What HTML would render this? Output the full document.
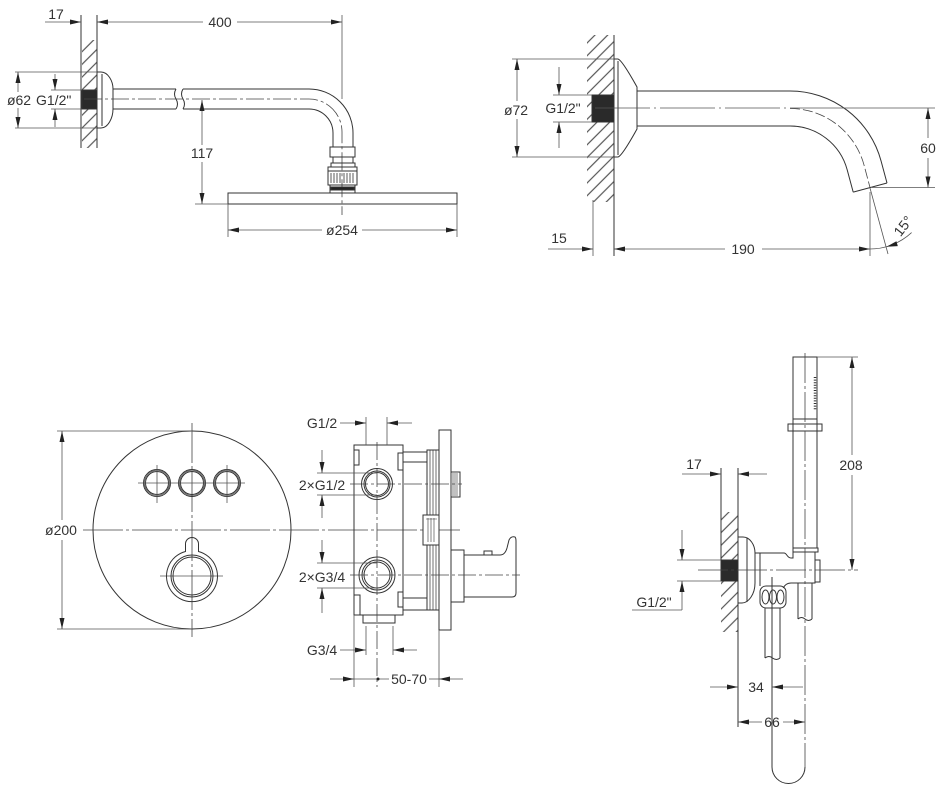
<!DOCTYPE html>
<html><head><meta charset="utf-8">
<style>
body{margin:0;background:#fff}
svg{display:block}
text{font-family:"Liberation Sans",sans-serif;font-size:14px;fill:#333;stroke:none}
.d{stroke:#555;stroke-width:0.8}
.c{stroke:#444;stroke-width:0.8;stroke-dasharray:18 3 3 3}
</style></head>
<body>
<svg width="939" height="796" viewBox="0 0 939 796" xmlns="http://www.w3.org/2000/svg">
<defs>
<marker id="a" viewBox="0 0 11 5" refX="11" refY="2.5" markerWidth="11" markerHeight="5" markerUnits="userSpaceOnUse" orient="auto-start-reverse"><path d="M0,0L11,2.5L0,5z" fill="#222"/></marker>
<pattern id="h" width="9" height="9" patternUnits="userSpaceOnUse" patternTransform="rotate(45)"><line x1="4.5" y1="0" x2="4.5" y2="9" stroke="#555" stroke-width="1.2"/></pattern>
</defs>
<g fill="none" stroke="#333" stroke-width="1">

<!-- ============ TOP LEFT : shower arm ============ -->
<rect x="82" y="40" width="15" height="108" fill="url(#h)" stroke="none"/>
<line x1="81" y1="15" x2="81" y2="148"/>
<line x1="97" y1="15" x2="97" y2="148"/>
<rect x="82" y="90" width="15" height="19" fill="#2a2a2a"/>
<path d="M97,72 H101 C108,72 113,81 113,89 V109 C113,118 108,128 101,128 H97"/>
<line x1="102" y1="74" x2="102" y2="126"/>
<path d="M113,89 H176 M183,89 H309 A44,44 0 0 1 353,133 V147"/>
<path d="M113,109 H176 M183,109 H309 A24,24 0 0 1 333,133 V147"/>
<path d="M176,89 q-3,5 0,10 q3,5 0,10 M183,89 q-3,5 0,10 q3,5 0,10"/>
<path class="c" d="M84,99 H309 A33,33 0 0 1 342,132 V215"/>
<line class="d" x1="342" y1="15" x2="342" y2="99"/>
<!-- nut -->
<rect x="330" y="147" width="25" height="10"/>
<rect x="333" y="157" width="20" height="6"/>
<rect x="331" y="163" width="24" height="4"/>
<rect x="328" y="167" width="29" height="18"/>
<line x1="328" y1="171" x2="357" y2="171"/>
<path d="M331,173V183M334,173V183M337,173V183M340,173V183M344,173V183M347,173V183M350,173V183M353,173V183" stroke-width="0.8"/>
<rect x="330" y="185" width="25" height="8"/>
<rect x="331" y="187" width="23" height="3" fill="#222"/>
<!-- head -->
<rect x="228" y="193" width="229" height="11"/>
<!-- dims -->
<g class="d">
<line x1="45" y1="22" x2="81" y2="22" marker-end="url(#a)"/>
<line x1="203" y1="22" x2="97" y2="22" marker-end="url(#a)"/>
<line x1="237" y1="22" x2="342" y2="22" marker-end="url(#a)"/>
<line x1="15" y1="72" x2="97" y2="72"/>
<line x1="15" y1="128" x2="97" y2="128"/>
<line x1="18" y1="92" x2="18" y2="72" marker-end="url(#a)"/>
<line x1="18" y1="108" x2="18" y2="128" marker-end="url(#a)"/>
<line x1="51" y1="90" x2="82" y2="90"/>
<line x1="51" y1="109" x2="82" y2="109"/>
<line x1="55" y1="74" x2="55" y2="90" marker-end="url(#a)"/>
<line x1="55" y1="127" x2="55" y2="109" marker-end="url(#a)"/>
<line x1="202" y1="145" x2="202" y2="100" marker-end="url(#a)"/>
<line x1="202" y1="162" x2="202" y2="204" marker-end="url(#a)"/>
<line x1="195" y1="204" x2="228" y2="204"/>
<line x1="228" y1="204" x2="228" y2="237"/>
<line x1="457" y1="204" x2="457" y2="237"/>
<line x1="322" y1="230" x2="228" y2="230" marker-end="url(#a)"/>
<line x1="362" y1="230" x2="457" y2="230" marker-end="url(#a)"/>
</g>
<text x="56" y="19" text-anchor="middle">17</text>
<text x="220" y="27" text-anchor="middle">400</text>
<text x="19" y="105" text-anchor="middle">ø62</text>
<text x="36" y="105">G1/2"</text>
<text x="202" y="158" text-anchor="middle">117</text>
<text x="342" y="235" text-anchor="middle">ø254</text>

<!-- ============ TOP RIGHT : spout ============ -->
<rect x="587" y="35" width="27" height="167" fill="url(#h)" stroke="none"/>
<line x1="614" y1="35" x2="614" y2="256"/>
<rect x="592" y="95" width="22" height="27" fill="#2a2a2a"/>
<path d="M614,59 H618 Q622,60 637,87 V129 Q622,156 618,157 H614"/>
<line x1="618" y1="61" x2="618" y2="155"/>
<path d="M637,91 H790 A94.2,94.2 0 0 1 881,160.8 L887,183"/>
<path d="M637,126 H790 A59.2,59.2 0 0 1 847.2,169.9 L853.2,192.1"/>
<line x1="853.2" y1="192.1" x2="887" y2="183"/>
<path class="c" d="M790,108.5 A76.7,76.7 0 0 1 864.1,165.3 L870,187.5" style="stroke-dasharray:10 3"/>
<line class="d" x1="595" y1="108" x2="800" y2="108" style="stroke-dasharray:55 4 2 4"/>
<g class="d">
<line x1="800" y1="108" x2="935" y2="108"/>
<line x1="928" y1="138" x2="928" y2="108" marker-end="url(#a)"/>
<line x1="928" y1="158" x2="928" y2="187.5" marker-end="url(#a)"/>
<line x1="872" y1="187.5" x2="935" y2="187.5"/>
<line x1="870" y1="192" x2="870" y2="256"/>
<line x1="870" y1="188" x2="888" y2="254"/>
<path d="M870,249 A61,61 0 0 0 911.6,232.6"/>
<line x1="593" y1="200" x2="593" y2="256"/>
<line x1="725" y1="249" x2="614" y2="249" marker-end="url(#a)"/>
<line x1="762" y1="249" x2="870" y2="249" marker-end="url(#a)"/>
<line x1="548" y1="249" x2="593" y2="249" marker-end="url(#a)"/>
<line x1="512" y1="59" x2="614" y2="59"/>
<line x1="512" y1="157" x2="614" y2="157"/>
<line x1="517" y1="101" x2="517" y2="59" marker-end="url(#a)"/>
<line x1="517" y1="119" x2="517" y2="157" marker-end="url(#a)"/>
<line x1="553" y1="95" x2="592" y2="95"/>
<line x1="553" y1="122" x2="592" y2="122"/>
<line x1="559" y1="67" x2="559" y2="95" marker-end="url(#a)"/>
<line x1="559" y1="148" x2="559" y2="122" marker-end="url(#a)"/>
</g>
<polygon points="886.5,246.7 897.8,246.1 896.4,241.3" fill="#222" stroke="none"/>
<text x="928" y="153" text-anchor="middle">60</text>
<text transform="translate(907,229) rotate(-52)" text-anchor="middle">15°</text>
<text x="743" y="254" text-anchor="middle">190</text>
<text x="559" y="243" text-anchor="middle">15</text>
<text x="516" y="115" text-anchor="middle">ø72</text>
<text x="563" y="113" text-anchor="middle">G1/2"</text>

<!-- ============ BOTTOM LEFT : plate ============ -->
<circle cx="192" cy="530" r="99"/>
<line class="c" x1="192" y1="423" x2="192" y2="637" style="stroke-dasharray:40 3 3 3"/>
<line class="c" x1="83" y1="530" x2="460" y2="530" style="stroke-dasharray:40 3 3 3"/>
<g>
<circle cx="157" cy="483" r="13.5"/><circle cx="157" cy="483" r="11.5"/><circle cx="157" cy="483" r="12.5" stroke-width="0.6"/>
<circle cx="192" cy="483" r="13.5"/><circle cx="192" cy="483" r="11.5"/><circle cx="192" cy="483" r="12.5" stroke-width="0.6"/>
<circle cx="227" cy="483" r="13.5"/><circle cx="227" cy="483" r="11.5"/><circle cx="227" cy="483" r="12.5" stroke-width="0.6"/>
</g>
<g class="d">
<line x1="138" y1="483" x2="245" y2="483"/>
<line x1="157" y1="465" x2="157" y2="503"/>
<line x1="227" y1="465" x2="227" y2="503"/>
<line x1="160" y1="576" x2="223" y2="576"/>
</g>
<path d="M185.5,551.5 V544 A6.5,6.5 0 0 1 198.5,544 V551.5 A25.5,25.5 0 1 1 185.5,551.5 Z"/>
<circle cx="192" cy="576" r="21"/>
<circle cx="192" cy="576" r="19"/>
<g class="d">
<line x1="57" y1="431" x2="192" y2="431"/>
<line x1="57" y1="629" x2="192" y2="629"/>
<line x1="62" y1="520" x2="62" y2="431" marker-end="url(#a)"/>
<line x1="62" y1="540" x2="62" y2="629" marker-end="url(#a)"/>
</g>
<text x="61" y="535" text-anchor="middle">ø200</text>

<!-- ============ BOTTOM MIDDLE : body ============ -->
<rect x="354" y="445" width="49" height="170"/>
<rect x="354" y="450" width="5" height="15"/>
<rect x="398" y="453" width="5" height="17"/>
<rect x="354" y="595" width="6" height="20"/>
<rect x="398" y="592" width="5" height="15"/>
<path d="M403,452H427M403,462H427M403,598H427M403,610H427"/>
<rect x="427" y="450" width="12" height="160"/>
<path d="M430,450V610M433,450V610M436,450V610" stroke-width="0.7"/>
<rect x="439" y="430" width="12" height="200"/>
<rect x="451" y="472" width="9" height="25"/>
<path d="M453,473V496M455,473V496M457,473V496" stroke-width="0.6"/>
<rect x="423" y="515" width="16" height="30" fill="#fff"/>
<path d="M428,518V542M431,518V542M434,518V542M426,519H437" stroke-width="0.6"/>
<circle cx="377" cy="484" r="15.5"/><circle cx="377" cy="484" r="13"/><circle cx="377" cy="484" r="11.5"/>
<circle cx="377" cy="575" r="18"/><circle cx="377" cy="575" r="15"/><circle cx="377" cy="575" r="13"/>
<rect x="363" y="615" width="32" height="8"/>
<rect x="451" y="550" width="13" height="52"/>
<path d="M464,555 H500 Q505,555 507,548 L509,540 Q511,536 515,537 Q516,538 516,541 V593 Q516,597 512,597 H464"/>
<rect x="484" y="551" width="8" height="4"/>
<line class="c" x1="350" y1="484" x2="462" y2="484"/>
<line class="c" x1="350" y1="575" x2="520" y2="575"/>
<line class="c" x1="377" y1="442" x2="377" y2="687"/>
<g class="d">
<line x1="317" y1="473" x2="377" y2="473"/>
<line x1="317" y1="495" x2="377" y2="495"/>
<line x1="322" y1="450" x2="322" y2="473" marker-end="url(#a)"/>
<line x1="322" y1="518" x2="322" y2="495" marker-end="url(#a)"/>
<line x1="317" y1="563" x2="377" y2="563"/>
<line x1="317" y1="588" x2="377" y2="588"/>
<line x1="322" y1="540" x2="322" y2="563" marker-end="url(#a)"/>
<line x1="322" y1="613" x2="322" y2="588" marker-end="url(#a)"/>
<line x1="366" y1="417" x2="366" y2="445"/>
<line x1="387" y1="417" x2="387" y2="445"/>
<line x1="340" y1="423" x2="366" y2="423" marker-end="url(#a)"/>
<line x1="412" y1="423" x2="387" y2="423" marker-end="url(#a)"/>
<line x1="366" y1="626" x2="366" y2="655"/>
<line x1="393" y1="626" x2="393" y2="655"/>
<line x1="340" y1="650" x2="366" y2="650" marker-end="url(#a)"/>
<line x1="417" y1="650" x2="393" y2="650" marker-end="url(#a)"/>
<line x1="354" y1="615" x2="354" y2="687"/>
<line x1="439" y1="630" x2="439" y2="687"/>
<line x1="330" y1="679" x2="354" y2="679" marker-end="url(#a)"/>
<line x1="354" y1="679" x2="389" y2="679"/>
<line x1="429" y1="679" x2="439" y2="679"/>
<line x1="463" y1="679" x2="439" y2="679" marker-end="url(#a)"/>
</g>
<circle cx="378" cy="679" r="1.5" fill="#222" stroke="none"/>
<text x="322" y="428" text-anchor="middle">G1/2</text>
<text x="322" y="490" text-anchor="middle">2×G1/2</text>
<text x="322" y="582" text-anchor="middle">2×G3/4</text>
<text x="322" y="655" text-anchor="middle">G3/4</text>
<text x="409" y="684" text-anchor="middle">50-70</text>

<!-- ============ BOTTOM RIGHT : hand shower ============ -->
<rect x="793" y="357" width="24" height="191"/>
<line x1="793" y1="419" x2="817" y2="419"/>
<rect x="788" y="424" width="34" height="7" fill="#fff"/>
<line x1="793" y1="424" x2="793" y2="431"/><line x1="817" y1="424" x2="817" y2="431"/>
<line x1="815" y1="377" x2="815" y2="410" stroke-width="2.5" stroke-dasharray="1 1.6"/>
<rect x="793" y="548" width="25" height="4"/>
<line class="c" x1="805" y1="353" x2="805" y2="767" style="stroke-dasharray:30 3 3 3"/>
<rect x="721" y="512" width="17" height="120" fill="url(#h)" stroke="none"/>
<line x1="738" y1="468" x2="738" y2="727"/>
<line x1="721" y1="468" x2="721" y2="581"/>
<rect x="721" y="560" width="17" height="21" fill="#2a2a2a"/>
<path d="M738,537 H743 C750,537 755,545 755,553 V583 C755,595 748,603 742,603 H738"/>
<line x1="747" y1="538" x2="747" y2="602"/>
<path d="M755,553 H784 C787,553 787,558 791,558 H793 V552"/>
<line x1="760" y1="553" x2="760" y2="586"/>
<path d="M815,552 V583 H791 C787,583 785,585 783,588"/>
<rect x="815" y="560" width="5" height="22"/>
<rect x="760" y="586" width="26" height="22" rx="6"/>
<ellipse cx="765.5" cy="597" rx="3.5" ry="7"/>
<ellipse cx="773" cy="597" rx="3.5" ry="7"/>
<ellipse cx="780.5" cy="597" rx="3.5" ry="7"/>
<path d="M765,608 V658 M780,608 V658 M765,658 q4,-3 7.5,0 q4,3 7.5,0"/>
<path d="M798,583 V619 M812,583 V619 M798,619 q3.5,-3 7,0 q3.5,3 7,0"/>
<path d="M772,577 V767 A16.5,16.5 0 0 0 805,767"/>
<line class="c" x1="698" y1="570" x2="858" y2="570" style="stroke-dasharray:30 3 3 3"/>
<g class="d">
<line x1="817" y1="357" x2="858" y2="357"/>
<line x1="852" y1="455" x2="852" y2="357" marker-end="url(#a)"/>
<line x1="852" y1="475" x2="852" y2="570" marker-end="url(#a)"/>
<line x1="682" y1="474" x2="721" y2="474" marker-end="url(#a)"/>
<line x1="767" y1="474" x2="738" y2="474" marker-end="url(#a)"/>
<line x1="677" y1="560" x2="721" y2="560"/>
<line x1="677" y1="581" x2="721" y2="581"/>
<line x1="682" y1="530" x2="682" y2="560" marker-end="url(#a)"/>
<line x1="682" y1="610" x2="682" y2="581" marker-end="url(#a)"/>
<line x1="632" y1="610" x2="682" y2="610"/>
<line x1="710" y1="687" x2="738" y2="687" marker-end="url(#a)"/>
<line x1="803" y1="687" x2="772" y2="687" marker-end="url(#a)"/>
<line x1="762" y1="722" x2="738" y2="722" marker-end="url(#a)"/>
<line x1="783" y1="722" x2="805" y2="722" marker-end="url(#a)"/>
</g>
<text x="851" y="470" text-anchor="middle">208</text>
<text x="694" y="469" text-anchor="middle">17</text>
<text x="654" y="607" text-anchor="middle">G1/2"</text>
<text x="756" y="692" text-anchor="middle">34</text>
<text x="772" y="727" text-anchor="middle">66</text>
</g>
</svg>
</body></html>
